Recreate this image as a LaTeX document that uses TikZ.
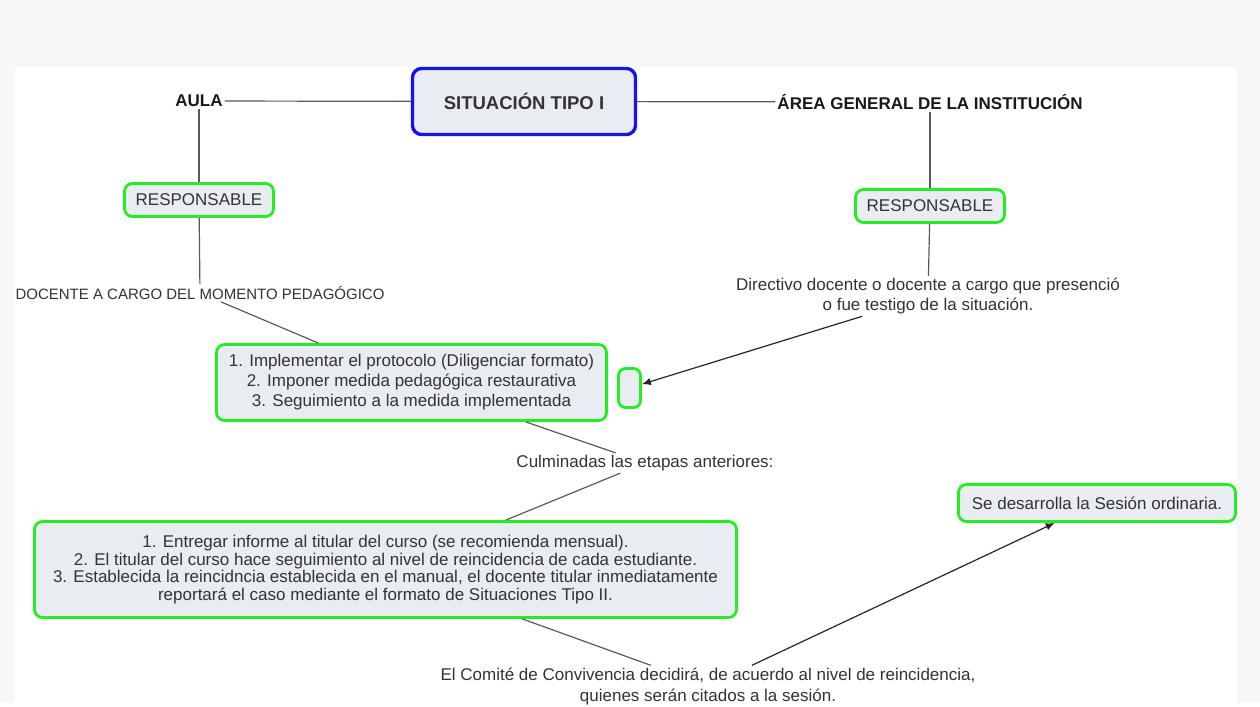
\documentclass[tikz,border=0pt]{standalone}
\usepackage{fontspec}
\setmainfont{Liberation Sans}
\usetikzlibrary{arrows.meta}
\definecolor{fondo}{HTML}{F7F7F7}
\definecolor{relleno}{HTML}{E9EDF1}
\definecolor{verde}{HTML}{22EE22}
\definecolor{azul}{HTML}{1515E8}
\definecolor{linea}{HTML}{5A5A5A}
\definecolor{texto}{HTML}{333333}

\begin{document}
\begin{tikzpicture}[x=1pt, y=-1pt,
    every node/.style={font=\fontsize{17}{20}\selectfont, text=texto, inner sep=2pt, align=center},
    caja/.style={draw=verde, line width=2.8pt, fill=relleno, rounded corners=8pt},
    titulo/.style={font=\bfseries\fontsize{17}{20}\selectfont, text=black!90},
    enlace/.style={draw=linea, line width=1.2pt},
    flecha/.style={draw=black!85, line width=1.2pt, -{Latex[length=9pt,width=7.5pt]}}]
    % fondo
    \fill[fondo] (0,0) rectangle (1260,703);
    \fill[white] (15,67) rectangle (1237,703);
    % nodos
    \node[caja, draw=azul, line width=3.4pt, minimum width=223pt, minimum height=66pt, rounded corners=9pt,
          font=\bfseries\fontsize{18.5}{22}\selectfont] (situacion) at (524,101.5) {SITUACIÓN TIPO I};
    \node[titulo] (aula) at (199,101) {AULA};
    \node[titulo] (area) at (930,102) {ÁREA GENERAL DE LA INSTITUCIÓN};
    \node[caja, minimum width=149pt, minimum height=33pt] (respA) at (199,200) {RESPONSABLE};
    \node[caja, minimum width=149pt, minimum height=33pt] (respB) at (930,206) {RESPONSABLE};
    \node[font=\fontsize{15}{18}\selectfont] (docente) at (200,293) {DOCENTE A CARGO DEL MOMENTO PEDAGÓGICO};
    \node (directivo) at (928,296) {Directivo docente o docente a cargo que presenció\\o fue testigo de la situación.};
    \node[caja, minimum width=390pt, minimum height=76pt] (pasos) at (411.5,382.5)
        {1. Implementar el protocolo (Diligenciar formato)\\2. Imponer medida pedagógica restaurativa\\3. Seguimiento a la medida implementada};
    \node[caja, minimum width=22pt, minimum height=39pt, rounded corners=7pt] (vacio) at (629.5,388) {};
    \node (culminadas) at (645,463) {Culminadas las etapas anteriores:};
    \node[caja, minimum width=702pt, minimum height=96pt, font=\fontsize{17}{17.4}\selectfont] (informe) at (385.5,569.5)
        {1. Entregar informe al titular del curso (se recomienda mensual).\\2. El titular del curso hace seguimiento al nivel de reincidencia de cada estudiante.\\3. Establecida la reincidncia establecida en el manual, el docente titular inmediatamente\\reportará el caso mediante el formato de Situaciones Tipo II.};
    \node[caja, minimum width=277pt, minimum height=37pt] (sesion) at (1097,503) {Se desarrolla la Sesión ordinaria.};
    \node[font=\fontsize{17}{21}\selectfont] (comite) at (708,686)
        {El Comité de Convivencia decidirá, de acuerdo al nivel de reincidencia,\\quienes serán citados a la sesión.};
    % conectores
    \draw[enlace] (aula) -- (situacion);
    \draw[enlace] (situacion) -- (area);
    \draw[enlace] (aula) -- (respA);
    \draw[enlace] (area) -- (respB);
    \draw[enlace] (respA) -- (docente);
    \draw[enlace] (respB) -- (directivo);
    \draw[enlace] (docente) -- (pasos);
    \draw[enlace] (pasos) -- (culminadas);
    \draw[enlace] (culminadas) -- (informe);
    \draw[enlace] (informe) -- (comite);
    \draw[flecha] (directivo) -- (vacio);
    \draw[flecha] (comite) -- (sesion);
\end{tikzpicture}
\end{document}
